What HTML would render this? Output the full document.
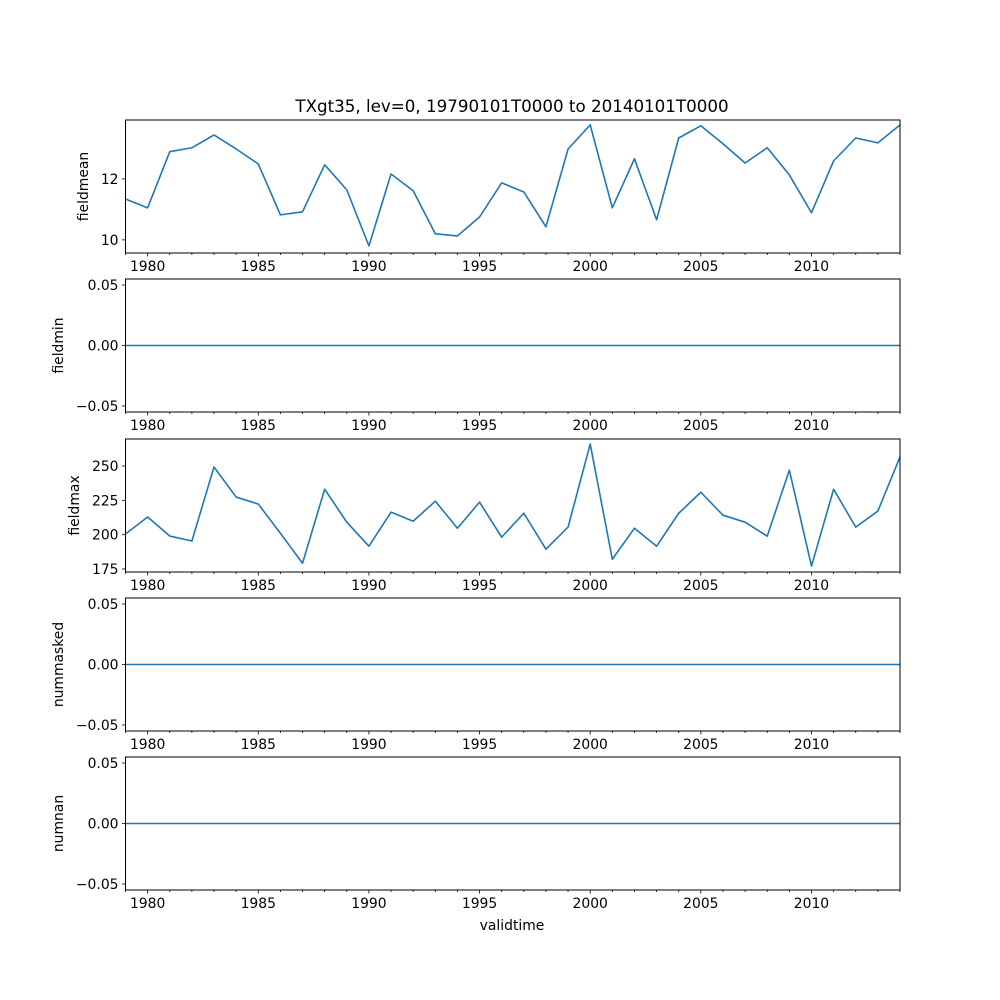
<!DOCTYPE html>
<html><head><meta charset="utf-8"><style>
html,body{margin:0;padding:0;background:#fff}
svg{display:block;font-family:"DejaVu Sans","Liberation Sans",sans-serif}
</style></head><body>
<svg id="chart" width="1000" height="1000" xmlns="http://www.w3.org/2000/svg">
<text x="512" y="112" font-size="16.7" text-anchor="middle">TXgt35, lev=0, 19790101T0000 to 20140101T0000</text>
<text x="512" y="930" font-size="13.9" text-anchor="middle">validtime</text>
</svg>
<script>
const years = [];
for (let y = 1979; y <= 2014; y++) years.push(y);
const fieldmean = [11.34,11.05,12.89,13.02,13.44,12.98,12.49,10.82,10.92,12.46,11.64,9.80,12.16,11.61,10.20,10.13,10.75,11.87,11.57,10.43,12.98,13.77,11.05,12.66,10.66,13.34,13.74,13.15,12.52,13.02,12.13,10.89,12.59,13.34,13.18,13.77];
const fieldmax = [200.5,212.9,199,195.4,249.3,227.4,222.3,201,179.2,233.1,209.1,191.6,216.4,209.8,224.4,204.7,223.7,198.2,215.6,189.4,205.5,266,182.1,204.7,191.6,215.6,230.9,214.2,209.1,198.9,247,177.1,233.1,205.5,217.2,256.6];
const zeros = years.map(() => 0);
const xTicks = [1980,1985,1990,1995,2000,2005,2010];
const meanTicks = [10,12];
const maxTicks = [175,200,225,250];
const zeroTicks = [-0.05,0,0.05];
const zeroTickLabels = ["−0.05","0.00","0.05"];

const NS = "http://www.w3.org/2000/svg";
const svg = document.getElementById('chart');
const L = 125.5, R = 900, X0 = 1979, X1 = 2014;
const xs = v => L + (v - X0) / (X1 - X0) * (R - L);

const panels = [
  {name:'fieldmean', top:120, bot:253, lo:9.57, hi:13.93, data:fieldmean, ticks:meanTicks, labels:meanTicks.map(String), lx:88},
  {name:'fieldmin', top:279, bot:412, lo:-0.055, hi:0.055, data:zeros, ticks:zeroTicks, labels:zeroTickLabels, lx:63},
  {name:'fieldmax', top:439, bot:572, lo:172.8, hi:269.7, data:fieldmax, ticks:maxTicks, labels:maxTicks.map(String), lx:79},
  {name:'nummasked', top:598, bot:731, lo:-0.055, hi:0.055, data:zeros, ticks:zeroTicks, labels:zeroTickLabels, lx:63},
  {name:'numnan', top:757, bot:890, lo:-0.055, hi:0.055, data:zeros, ticks:zeroTicks, labels:zeroTickLabels, lx:63}
];
function mk(tag, attrs, parent) {
  const e = document.createElementNS(NS, tag);
  for (const k in attrs) e.setAttribute(k, attrs[k]);
  (parent || svg).appendChild(e);
  return e;
}
panels.forEach(p => {
  const g = mk('g', {});
  
  
  const ys = v => p.bot - (v - p.lo) / (p.hi - p.lo) * (p.bot - p.top);
  const pts = p.data.map((v, i) => xs(years[i]).toFixed(2) + ',' + ys(v).toFixed(2)).join(' ');
  const line = mk('polyline', {points: pts, fill: 'none', stroke: '#1f77b4', 'stroke-width': 1.6, 'stroke-linejoin': 'round'}, g);
  
  
  const frame = mk('rect', {x: L, y: p.top, width: R - L, height: p.bot - p.top, fill: 'none', stroke: '#000', 'stroke-width': 1}, g);
  
  
  years.forEach(y => {
    const major = xTicks.includes(y);
    mk('line', {x1: xs(y), x2: xs(y), y1: p.bot, y2: p.bot + (major ? 3.5 : 2), stroke: '#000', 'stroke-width': 0.8}, g);
  });
  xTicks.forEach(y => {
    const t = mk('text', {x: xs(y), y: p.bot + 18, 'font-size': 13.9, 'text-anchor': 'middle'}, g);
    t.textContent = y;
    
    
  });
  p.ticks.forEach((v, i) => {
    mk('line', {x1: L - 3.5, x2: L, y1: ys(v), y2: ys(v), stroke: '#000', 'stroke-width': 0.8}, g);
    const t = mk('text', {x: L - 7, y: ys(v) + 5, 'font-size': 13.9, 'text-anchor': 'end'}, g);
    t.textContent = p.labels[i];
    
    
  });
  const labX = p.lx;
  const cy = (p.top + p.bot) / 2;
  const yl = mk('text', {x: labX, y: cy, 'font-size': 13.9, 'text-anchor': 'middle', transform: 'rotate(-90 ' + labX + ' ' + cy + ')'}, g);
  yl.textContent = p.name;
  
  
});
</script>
</body></html>
